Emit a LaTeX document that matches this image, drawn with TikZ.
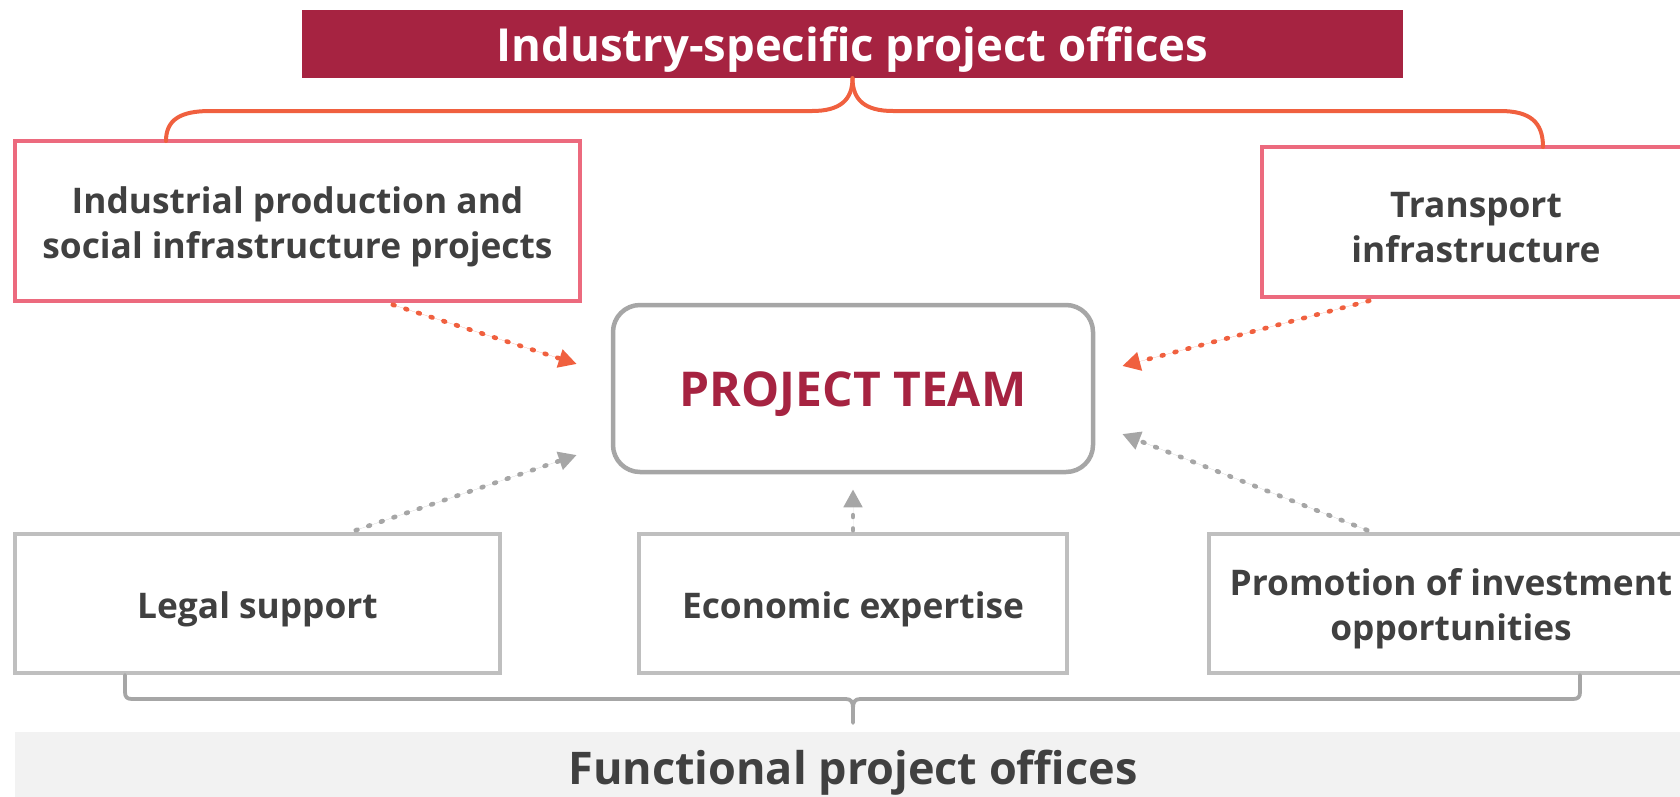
\documentclass[tikz,border=0pt]{standalone}
\usepackage{fontspec}
\setmainfont{Open Sans}
\usetikzlibrary{arrows.meta,calc}

\definecolor{crimson}{HTML}{A62341}
\definecolor{coral}{HTML}{F0603F}
\definecolor{rose}{HTML}{EC6A7E}
\definecolor{midgray}{HTML}{A6A6A6}
\definecolor{softgray}{HTML}{BFBFBF}
\definecolor{bandgray}{HTML}{F2F2F2}
\definecolor{ink}{HTML}{404040}

\begin{document}
\begin{tikzpicture}[x=1pt,y=-1pt,
  % frames
  banner/.style={fill=crimson, inner sep=0pt},
  sectorbox/.style={draw=rose, line width=3.5pt, fill=white, inner sep=0pt},
  teambox/.style={draw=midgray, line width=4.5pt, fill=white,
    rounded corners=27pt, inner sep=0pt},
  unitbox/.style={draw=softgray, line width=3.5pt, fill=white, inner sep=0pt},
  % captions, set slightly low to sit optically centred
  captionshift/.style={inner sep=0pt, yshift=-5.5pt},
  bannertext/.style={captionshift, text=white,
    font=\fontsize{45.5}{54}\selectfont\bfseries},
  boxtext/.style={captionshift, text=ink, align=center,
    font=\fontsize{35.3}{45}\selectfont\bfseries},
  teamtext/.style={captionshift, text=crimson,
    font=\fontsize{48}{56}\selectfont\bfseries},
  footer/.style={captionshift, text=ink,
    font=\fontsize{45}{54}\selectfont\bfseries},
  % connectors
  flow/.style={line width=4.6pt, line cap=round, dash pattern=on 1.8pt off 11.5pt,
    -{Triangle[length=18pt,width=18pt]}},
  hotflow/.style={flow, draw=coral, fill=coral},
  coolflow/.style={flow, draw=midgray, fill=midgray},
  topbrace/.style={draw=coral, line width=4pt, line cap=round, line join=round},
  basebrace/.style={draw=midgray, line width=3.8pt, line cap=round, line join=round}
]
\useasboundingbox (0,0) rectangle (1680,796);
\clip (0,0) rectangle (1680,796);

% footer band
\fill[bandgray] (15,732) rectangle (1690,800);

% header bar
\node[banner, minimum width=1101pt, minimum height=68pt] (title) at (852.5,44) {};
\node[bannertext] (title-text) at (title.center) {Industry-specific project offices};

% sector offices
\node[sectorbox, minimum width=565pt, minimum height=160pt] (ind) at (297.5,221) {};
\node[boxtext] (ind-text) at (ind.center)
  {Industrial production and\\social infrastructure projects};
\node[sectorbox, minimum width=428pt, minimum height=150pt] (trans) at (1476,222) {};
\node[boxtext] (trans-text) at (trans.center) {Transport\\infrastructure};

% central team
\node[teambox, minimum width=480pt, minimum height=167pt] (team) at (853,388.5) {};
\node[teamtext] (team-text) at (team.center) {PROJECT TEAM};

% functional offices
\node[unitbox, minimum width=485pt, minimum height=139pt] (legal) at (257.5,603.5) {};
\node[boxtext] (legal-text) at (legal.center) {Legal support};
\node[unitbox, minimum width=428pt, minimum height=139pt] (econ) at (853,603.5) {};
\node[boxtext] (econ-text) at (econ.center) {Economic expertise};
\node[unitbox, minimum width=484pt, minimum height=139pt] (promo) at (1451,603.5) {};
\node[boxtext] (promo-text) at (promo.center) {Promotion of investment\\opportunities};

\node[footer] (func) at (853,767) {Functional project offices};

% brace under the header
\draw[topbrace] (title.south)
  .. controls (852.5,100) and (840,111) .. (812,111) -- (210,111)
  .. controls (180,111) and (166,120) .. (166,141);
\draw[topbrace] (title.south)
  .. controls (852.5,100) and (865,111) .. (893,111) -- (1500,111)
  .. controls (1530,111) and (1543,122) .. (1543,147);

% brace above the footer
\draw[basebrace] (125,675) -- (125,692)
  .. controls (125,697) and (127,699) .. (132,699) -- (846,699)
  .. controls (851,699) and (853,702) .. (853,708) -- (853,723);
\draw[basebrace] (1580,675) -- (1580,692)
  .. controls (1580,697) and (1578,699) .. (1573,699) -- (860,699)
  .. controls (855,699) and (853,702) .. (853,708);

% flows into the team
\coordinate (inL1) at ($(team.west)+(-34,-24.5)$);
\coordinate (inR1) at ($(team.east)+(27,-22.5)$);
\coordinate (inL2) at ($(team.west)+(-34,66.5)$);
\coordinate (inB)  at ($(team.south)+(0,15)$);
\coordinate (inR2) at ($(team.east)+(27,45.5)$);

\draw[hotflow] ($(ind.south east)+(-189,2)$) -- (inL1);
\draw[hotflow] ($(trans.south west)+(109,2)$) -- (inR1);
\draw[coolflow] ($(legal.north east)+(-146,-2)$) -- (inL2);
\draw[coolflow] ($(econ.north)+(0,-2)$) -- (inB);
\draw[coolflow] ($(promo.north west)+(160,-2)$) -- (inR2);
\end{tikzpicture}
\end{document}
